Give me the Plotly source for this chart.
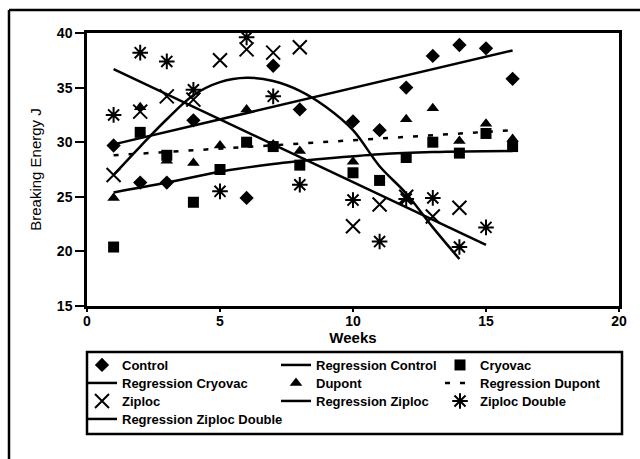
import plotly.graph_objects as go

# ---- data ----
control_weeks = [1, 2, 3, 4, 6, 7, 8, 10, 11, 12, 13, 14, 15, 16]
control_vals = [29.7, 26.3, 26.3, 32.0, 24.9, 37.0, 33.0, 31.9, 31.1, 35.0, 37.9, 38.9, 38.6, 35.8]

cryovac_weeks = [1, 2, 3, 4, 5, 6, 7, 8, 10, 11, 12, 13, 14, 15, 16]
cryovac_vals = [20.4, 30.9, 28.8, 24.5, 27.5, 30.0, 29.6, 27.9, 27.2, 26.5, 28.6, 30.0, 29.0, 30.8, 29.6]

dupont_weeks = [1, 2, 3, 4, 5, 6, 7, 8, 10, 12, 13, 14, 15, 16]
dupont_vals = [24.9, 33.2, 28.3, 28.1, 29.7, 33.0, 29.8, 29.2, 28.2, 32.1, 33.1, 30.1, 31.7, 30.3]

ziploc_weeks = [1, 2, 3, 4, 5, 6, 7, 8, 10, 11, 12, 13, 14]
ziploc_vals = [27.0, 32.8, 34.2, 33.9, 37.5, 38.5, 38.2, 38.7, 22.3, 24.3, 25.0, 23.2, 24.0]

zipdbl_weeks = [1, 2, 3, 4, 5, 6, 7, 8, 10, 11, 12, 13, 14, 15]
zipdbl_vals = [32.5, 38.2, 37.4, 34.8, 25.5, 39.6, 34.2, 26.1, 24.7, 20.9, 24.8, 24.9, 20.4, 22.2]

# regression lines
reg_control_weeks = [1, 16]
reg_control_vals = [29.8, 38.4]

reg_cryovac_weeks = [1, 3, 5, 7, 9, 11, 13, 16]
reg_cryovac_vals = [25.4, 26.3, 27.3, 28.0, 28.5, 28.9, 29.1, 29.2]

reg_dupont_weeks = [1, 16]
reg_dupont_vals = [28.8, 31.1]

reg_ziploc_weeks = [1, 2, 3, 4, 5, 6, 7, 8, 9, 10, 11, 12, 13, 14]
reg_ziploc_vals = [27.0, 29.6, 32.1, 34.3, 35.5, 35.9, 35.6, 34.7, 33.2, 31.1, 27.8, 25.3, 22.2, 19.3]

reg_zipdbl_weeks = [1, 15]
reg_zipdbl_vals = [36.7, 20.6]

x_ticks = [0, 5, 10, 15, 20]
y_ticks = [15, 20, 25, 30, 35, 40]

FONT = "Liberation Sans, Arial, sans-serif"
BLACK = "#000000"

fig = go.Figure()


def add_points(name, x, y, symbol, size, legend, open_sym=False):
    marker = dict(symbol=symbol, size=size, color=BLACK)
    if open_sym:
        marker["line"] = dict(color=BLACK, width=2)
    else:
        marker["line"] = dict(width=0)
    fig.add_trace(go.Scatter(x=x, y=y, mode="markers", name=name, showlegend=True,
                             marker=marker, legend=legend))


def add_line(name, x, y, legend, dash="solid", shape="linear"):
    fig.add_trace(go.Scatter(x=x, y=y, mode="lines", name=name, showlegend=True,
                             line=dict(color=BLACK, width=2.5, dash=dash, shape=shape),
                             legend=legend))


# one small legend per entry, laid out on a 3-column grid
add_points("Control", control_weeks, control_vals, "diamond", 11, "legend")
add_line("Regression Control", reg_control_weeks, reg_control_vals, "legend2")
add_points("Cryovac", cryovac_weeks, cryovac_vals, "square", 11, "legend3")
add_line("Regression Cryovac", reg_cryovac_weeks, reg_cryovac_vals, "legend4", shape="spline")
add_points("Dupont", dupont_weeks, dupont_vals, "triangle-up", 11, "legend5")
add_line("Regression Dupont", reg_dupont_weeks, reg_dupont_vals, "legend6", dash="5px,10px")
add_points("Ziploc", ziploc_weeks, ziploc_vals, "x-thin-open", 14, "legend7", open_sym=True)
add_line("Regression Ziploc", reg_ziploc_weeks, reg_ziploc_vals, "legend8", shape="spline")
add_points("Ziploc Double", zipdbl_weeks, zipdbl_vals, "asterisk-open", 13, "legend9", open_sym=True)
add_line("Regression Ziploc Double", reg_zipdbl_weeks, reg_zipdbl_vals, "legend10")

# plot area: x 87..619 px, y 33..306 px
PW, PH = 532.0, 273.0


def px(x):
    return (x - 87) / PW


def py(y):
    return (306 - y) / PH


leg_common = dict(orientation="v", bgcolor="rgba(0,0,0,0)", borderwidth=0,
                  font=dict(family=FONT, size=13, color=BLACK, weight="bold"),
                  xanchor="left", yanchor="top", itemsizing="trace", visible=True)

col_x = [82, 276, 440]
row_y = [350, 368, 386, 404]
grid = [(0, 0), (1, 0), (2, 0), (0, 1), (1, 1), (2, 1), (0, 2), (1, 2), (2, 2), (0, 3)]
legends = {}
for i, (c, r) in enumerate(grid):
    key = "legend" if i == 0 else f"legend{i + 1}"
    legends[key] = dict(x=px(col_x[c]), y=py(row_y[r]), **leg_common)

fig.update_layout(
    width=640, height=459,
    showlegend=True,
    margin=dict(l=87, r=21, t=33, b=153, autoexpand=False),
    paper_bgcolor="white", plot_bgcolor="white",
    font=dict(family=FONT, color=BLACK),
    xaxis=dict(range=[0, 20], tickvals=x_ticks, showgrid=False, zeroline=False,
               showline=True, linecolor=BLACK, linewidth=2.5, mirror=True,
               ticks="outside", ticklen=3, tickwidth=2, tickcolor=BLACK,
               ticklabelstandoff=-3,
               tickfont=dict(family=FONT, size=14, color=BLACK, weight="bold"),
               title=dict(text="Weeks", standoff=0,
                          font=dict(family=FONT, size=15, color=BLACK, weight="bold"))),
    yaxis=dict(range=[15, 40], tickvals=y_ticks, showgrid=False, zeroline=False,
               showline=True, linecolor=BLACK, linewidth=2.5, mirror=True,
               ticks="outside", ticklen=9, tickwidth=2, tickcolor=BLACK,
               tickfont=dict(family=FONT, size=14, color=BLACK, weight="bold"),
               title=dict(text="Breaking Energy J", standoff=12,
                          font=dict(family=FONT, size=15, color=BLACK))),
    shapes=[
        # legend box
        dict(type="rect", xref="paper", yref="paper", x0=px(87), x1=px(622),
             y0=py(434), y1=py(352), line=dict(color=BLACK, width=2.5)),
        # outer frame (left and top)
        dict(type="line", xref="paper", yref="paper", x0=px(9), x1=px(9),
             y0=py(459), y1=py(10), line=dict(color=BLACK, width=2.5)),
        dict(type="line", xref="paper", yref="paper", x0=px(9), x1=px(640),
             y0=py(10), y1=py(10), line=dict(color=BLACK, width=2.5)),
    ],
    **legends,
)

fig.write_html("out.html")
